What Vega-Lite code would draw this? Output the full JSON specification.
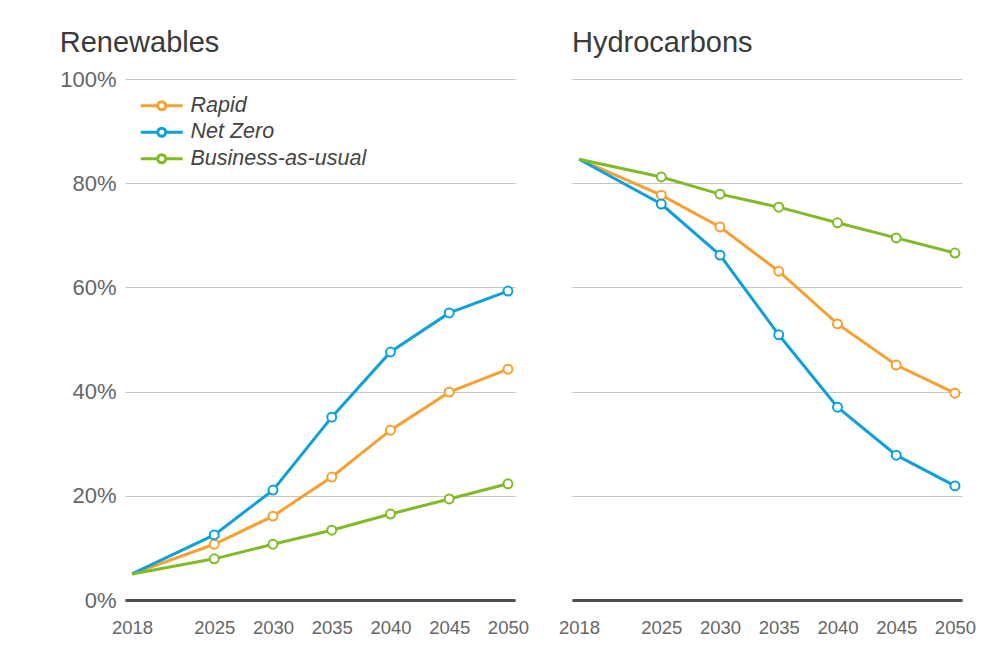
{
  "$schema": "https://vega.github.io/schema/vega-lite/v6.json",
  "background": "white",
  "padding": {"left": 59, "top": 29, "right": 10, "bottom": 10},
  "config": {
    "font": "Liberation Sans",
    "view": {"stroke": null}
  },
  "datasets": {
    "d": [
      {"panel": "Renewables", "scenario": "Rapid", "year": 2018, "value": 5},
      {"panel": "Renewables", "scenario": "Rapid", "year": 2025, "value": 10.7},
      {"panel": "Renewables", "scenario": "Rapid", "year": 2030, "value": 16.1},
      {"panel": "Renewables", "scenario": "Rapid", "year": 2035, "value": 23.6},
      {"panel": "Renewables", "scenario": "Rapid", "year": 2040, "value": 32.6},
      {"panel": "Renewables", "scenario": "Rapid", "year": 2045, "value": 39.9},
      {"panel": "Renewables", "scenario": "Rapid", "year": 2050, "value": 44.3},
      {"panel": "Renewables", "scenario": "Net Zero", "year": 2018, "value": 5},
      {"panel": "Renewables", "scenario": "Net Zero", "year": 2025, "value": 12.5},
      {"panel": "Renewables", "scenario": "Net Zero", "year": 2030, "value": 21.1},
      {"panel": "Renewables", "scenario": "Net Zero", "year": 2035, "value": 35.1},
      {"panel": "Renewables", "scenario": "Net Zero", "year": 2040, "value": 47.6},
      {"panel": "Renewables", "scenario": "Net Zero", "year": 2045, "value": 55.1},
      {"panel": "Renewables", "scenario": "Net Zero", "year": 2050, "value": 59.3},
      {"panel": "Renewables", "scenario": "Business-as-usual", "year": 2018, "value": 5},
      {"panel": "Renewables", "scenario": "Business-as-usual", "year": 2025, "value": 7.9},
      {"panel": "Renewables", "scenario": "Business-as-usual", "year": 2030, "value": 10.7},
      {"panel": "Renewables", "scenario": "Business-as-usual", "year": 2035, "value": 13.4},
      {"panel": "Renewables", "scenario": "Business-as-usual", "year": 2040, "value": 16.5},
      {"panel": "Renewables", "scenario": "Business-as-usual", "year": 2045, "value": 19.4},
      {"panel": "Renewables", "scenario": "Business-as-usual", "year": 2050, "value": 22.3},
      {"panel": "Hydrocarbons", "scenario": "Rapid", "year": 2018, "value": 84.6},
      {"panel": "Hydrocarbons", "scenario": "Rapid", "year": 2025, "value": 77.7},
      {"panel": "Hydrocarbons", "scenario": "Rapid", "year": 2030, "value": 71.6},
      {"panel": "Hydrocarbons", "scenario": "Rapid", "year": 2035, "value": 63.1},
      {"panel": "Hydrocarbons", "scenario": "Rapid", "year": 2040, "value": 53.0},
      {"panel": "Hydrocarbons", "scenario": "Rapid", "year": 2045, "value": 45.1},
      {"panel": "Hydrocarbons", "scenario": "Rapid", "year": 2050, "value": 39.7},
      {"panel": "Hydrocarbons", "scenario": "Net Zero", "year": 2018, "value": 84.6},
      {"panel": "Hydrocarbons", "scenario": "Net Zero", "year": 2025, "value": 76.0},
      {"panel": "Hydrocarbons", "scenario": "Net Zero", "year": 2030, "value": 66.2},
      {"panel": "Hydrocarbons", "scenario": "Net Zero", "year": 2035, "value": 50.9},
      {"panel": "Hydrocarbons", "scenario": "Net Zero", "year": 2040, "value": 37.0},
      {"panel": "Hydrocarbons", "scenario": "Net Zero", "year": 2045, "value": 27.8},
      {"panel": "Hydrocarbons", "scenario": "Net Zero", "year": 2050, "value": 21.9},
      {"panel": "Hydrocarbons", "scenario": "Business-as-usual", "year": 2018, "value": 84.6},
      {"panel": "Hydrocarbons", "scenario": "Business-as-usual", "year": 2025, "value": 81.2},
      {"panel": "Hydrocarbons", "scenario": "Business-as-usual", "year": 2030, "value": 77.9},
      {"panel": "Hydrocarbons", "scenario": "Business-as-usual", "year": 2035, "value": 75.4},
      {"panel": "Hydrocarbons", "scenario": "Business-as-usual", "year": 2040, "value": 72.4},
      {"panel": "Hydrocarbons", "scenario": "Business-as-usual", "year": 2045, "value": 69.5},
      {"panel": "Hydrocarbons", "scenario": "Business-as-usual", "year": 2050, "value": 66.6}
    ]
  },
  "spacing": 29,
  "resolve": {
    "scale": {"x": "independent", "y": "independent", "color": "independent"},
    "legend": {"color": "independent"}
  },
  "hconcat": [
    {
      "title": {"text": "Renewables", "anchor": "start", "frame": "bounds", "fontSize": 29, "fontWeight": "normal", "color": "#3a3a3a", "offset": 10},
      "width": 390,
      "height": 521,
      "data": {"name": "d"},
      "transform": [{"filter": "datum.panel === 'Renewables'"}],
      "encoding": {
        "x": {
          "field": "year", "type": "quantitative",
          "scale": {"domain": [2017.4, 2050.6], "nice": false, "zero": false},
          "axis": {"values": [2018, 2025, 2030, 2035, 2040, 2045, 2050], "format": "d", "title": null, "grid": false, "ticks": false, "domainColor": "#4d4d4d", "domainWidth": 3, "labelPadding": 18, "labelFontSize": 18.5, "labelColor": "#666666"}
        },
        "y": {
          "field": "value", "type": "quantitative",
          "scale": {"domain": [0, 100], "nice": false},
          "axis": {"values": [0, 20, 40, 60, 80, 100], "labelExpr": "datum.value + '%'", "title": null, "domain": false, "ticks": false, "gridColor": "#c6c6c6", "labelPadding": 9, "labelFontSize": 22, "labelColor": "#666666"}
        },
        "color": {
          "field": "scenario", "type": "nominal",
          "scale": {"domain": ["Rapid", "Net Zero", "Business-as-usual"], "range": ["#F6A030", "#0DA0DC", "#80BA27"]},
          "legend": {
            "title": null, "orient": "none", "legendX": 26, "legendY": 16, "padding": 0,
            "symbolType": "M-4.2,0L-0.8,0M0.8,0L4.2,0M-0.8,0A0.8,0.8,0,1,1,0.8,0A0.8,0.8,0,1,1,-0.8,0Z",
            "symbolSize": 100, "symbolStrokeWidth": 3, "symbolFillColor": "white",
            "labelFontSize": 21.5, "labelFontStyle": "italic", "labelColor": "#444444", "labelOffset": 18, "labelLimit": 400, "rowPadding": 3.5
          }
        }
      },
      "layer": [
        {"mark": {"type": "line", "strokeWidth": 3}},
        {"transform": [{"filter": "datum.year > 2018"}], "mark": {"type": "point", "shape": "circle", "filled": false, "fill": "white", "size": 80, "strokeWidth": 2, "opacity": 1}}
      ]
    },
    {
      "title": {"text": "Hydrocarbons", "anchor": "start", "frame": "group", "fontSize": 29, "fontWeight": "normal", "color": "#3a3a3a", "offset": 21},
      "width": 390,
      "height": 521,
      "data": {"name": "d"},
      "transform": [{"filter": "datum.panel === 'Hydrocarbons'"}],
      "encoding": {
        "x": {
          "field": "year", "type": "quantitative",
          "scale": {"domain": [2017.4, 2050.6], "nice": false, "zero": false},
          "axis": {"values": [2018, 2025, 2030, 2035, 2040, 2045, 2050], "format": "d", "title": null, "grid": false, "ticks": false, "domainColor": "#4d4d4d", "domainWidth": 3, "labelPadding": 18, "labelFontSize": 18.5, "labelColor": "#666666"}
        },
        "y": {
          "field": "value", "type": "quantitative",
          "scale": {"domain": [0, 100], "nice": false},
          "axis": {"values": [0, 20, 40, 60, 80, 100], "labels": false, "title": null, "domain": false, "ticks": false, "gridColor": "#c6c6c6"}
        },
        "color": {
          "field": "scenario", "type": "nominal",
          "scale": {"domain": ["Rapid", "Net Zero", "Business-as-usual"], "range": ["#F6A030", "#0DA0DC", "#80BA27"]},
          "legend": null
        }
      },
      "layer": [
        {"mark": {"type": "line", "strokeWidth": 3}},
        {"transform": [{"filter": "datum.year > 2018"}], "mark": {"type": "point", "shape": "circle", "filled": false, "fill": "white", "size": 80, "strokeWidth": 2, "opacity": 1}}
      ]
    }
  ]
}
